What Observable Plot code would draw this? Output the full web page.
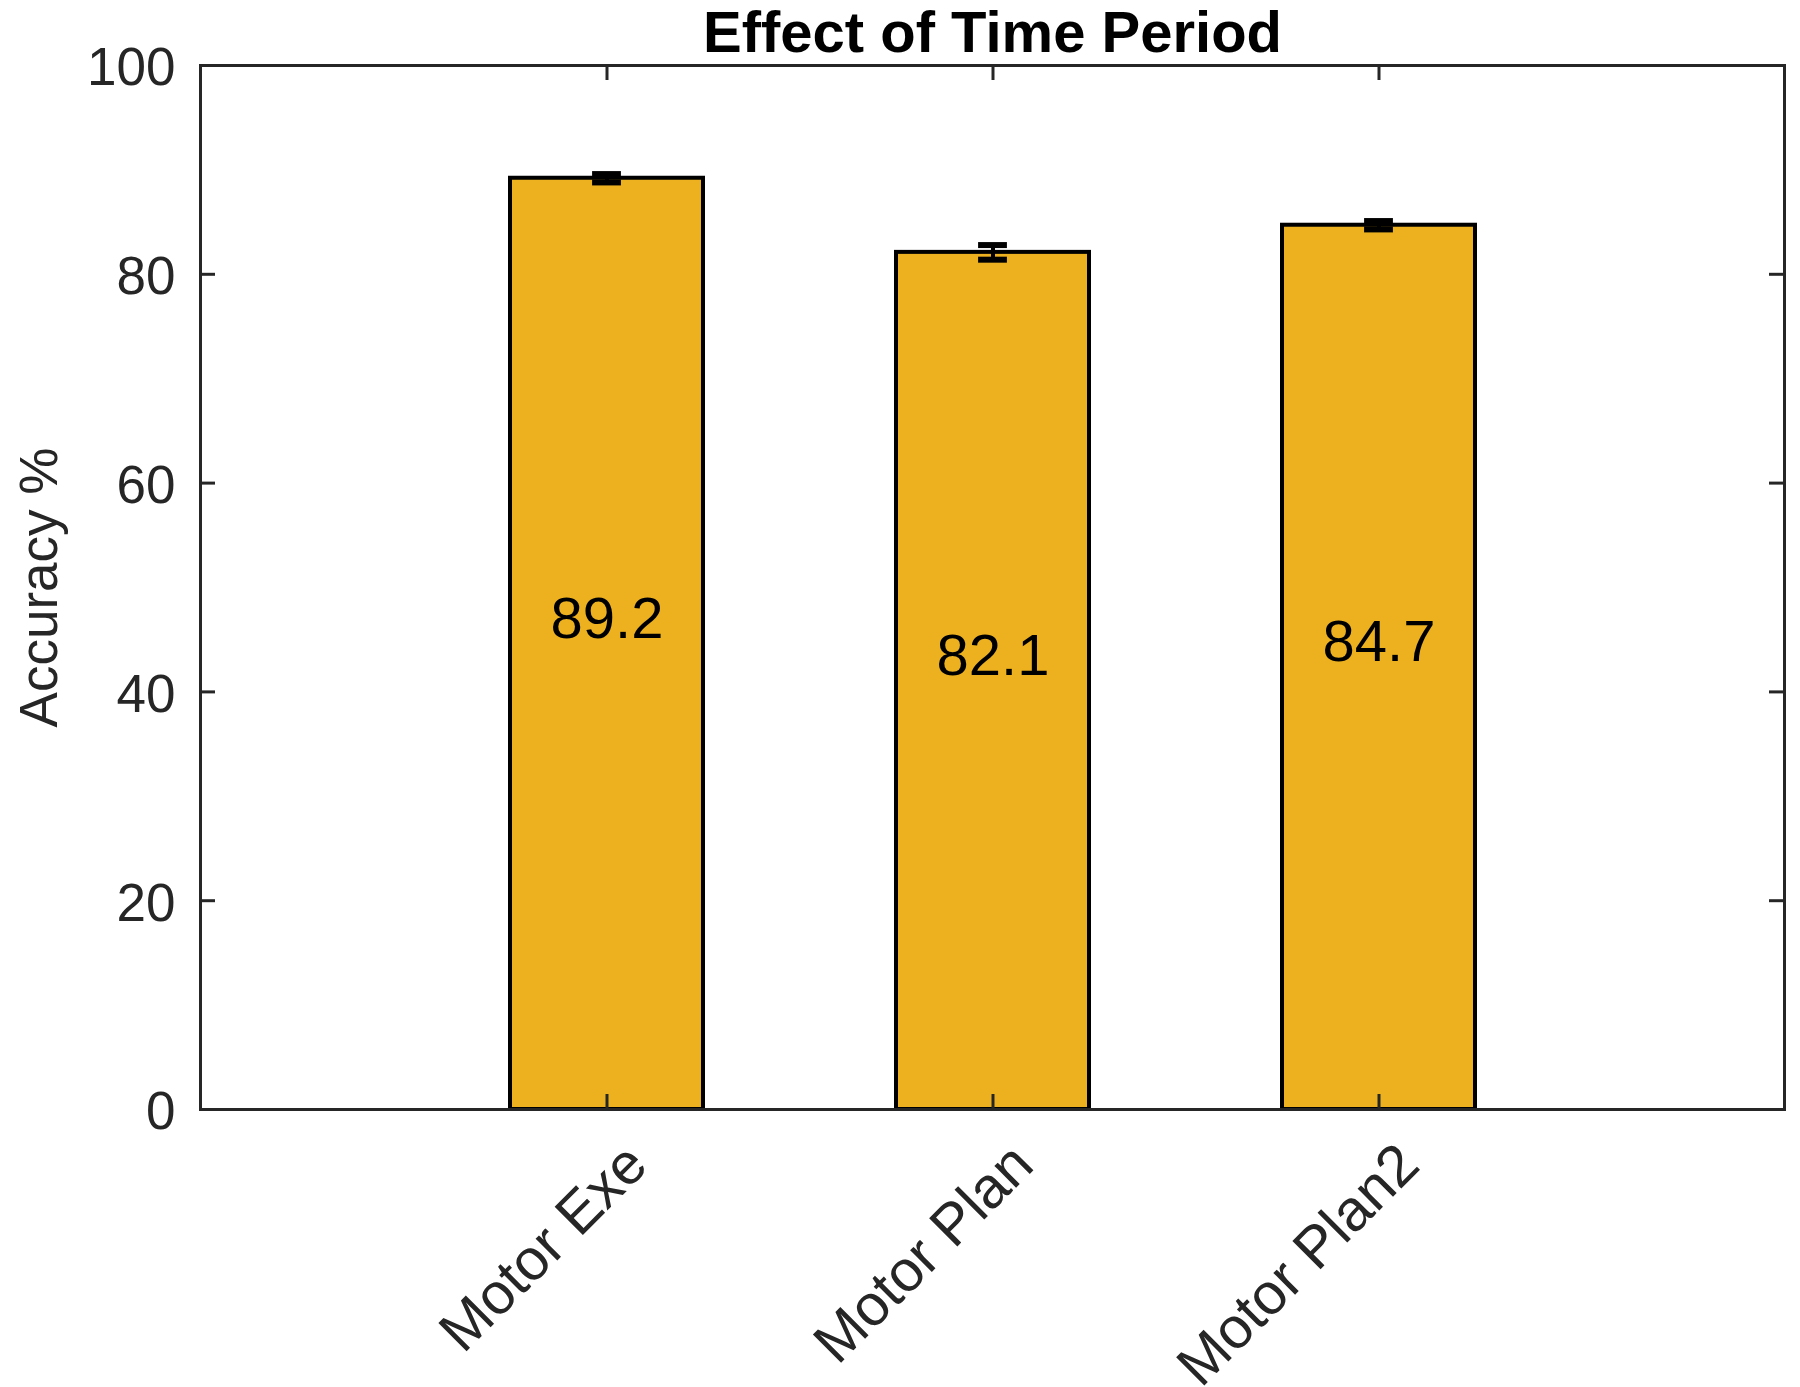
<!DOCTYPE html>
<html><head><meta charset="utf-8">
<script src="https://cdn.jsdelivr.net/npm/d3@7"></script>
<script src="https://cdn.jsdelivr.net/npm/@observablehq/plot@0.6"></script>
<style>body{margin:0;background:#fff}</style>
</head><body><div id="chart"></div>
<script>
const categories = ["Motor Exe", "Motor Plan", "Motor Plan2"];
const accuracy = [89.2, 82.1, 84.7];
const errors = [0.4, 0.7, 0.4];
const yTicks = [0, 20, 40, 60, 80, 100];
const title = "Effect of Time Period";
const yLabel = "Accuracy %";

const data = categories.map((c, i) => ({cat: c, value: accuracy[i], err: errors[i]}));

const W = 1800, H = 1387, mL = 200, mR = 16, mT = 65, mB = 278;
const fw = W - mL - mR, fh = H - mT - mB;
const pIn = 0.5, pOut = 0.8;
const step = fw / (categories.length - pIn + 2 * pOut);
const bw = step * (1 - pIn);
const capW = 29;
const capInset = (bw - capW) / 2;
const font = "'Liberation Sans', Arial, Helvetica, sans-serif";
const axisColor = "#262626";
const tickLen = 15;

const chart = Plot.plot({
  width: W, height: H,
  marginLeft: mL, marginRight: mR, marginTop: mT, marginBottom: mB,
  style: {fontFamily: font, background: "white", color: axisColor, overflow: "visible"},
  x: {domain: categories, paddingInner: pIn, paddingOuter: pOut},
  y: {domain: [0, 100]},
  marks: [
    Plot.barY(data, {x: "cat", y: "value", fill: "#EDB120", stroke: "#000", strokeWidth: 4}),
    Plot.ruleX(data, {x: "cat", y1: d => d.value - d.err, y2: d => d.value + d.err, stroke: "#000", strokeWidth: 4}),
    Plot.tickY(data, {x: "cat", y: d => d.value - d.err, stroke: "#000", strokeWidth: 6, insetLeft: capInset, insetRight: capInset}),
    Plot.tickY(data, {x: "cat", y: d => d.value + d.err, stroke: "#000", strokeWidth: 6, insetLeft: capInset, insetRight: capInset}),
    Plot.text(data, {x: "cat", y: d => d.value / 2, text: d => d.value.toFixed(1), fontSize: 58, fill: "#000", lineAnchor: "bottom", textAnchor: "middle", dy: -6}),
    Plot.ruleY(yTicks, {stroke: axisColor, strokeWidth: 3, insetRight: fw - tickLen}),
    Plot.ruleY(yTicks, {stroke: axisColor, strokeWidth: 3, insetLeft: fw - tickLen}),
    Plot.ruleX(categories, {stroke: axisColor, strokeWidth: 3, insetTop: fh - tickLen}),
    Plot.ruleX(categories, {stroke: axisColor, strokeWidth: 3, insetBottom: fh - tickLen}),
    Plot.axisY({ticks: yTicks, anchor: "left", tickSize: 0, tickPadding: 25, fontSize: 53, fill: axisColor, label: null, dy: 3}),
    Plot.axisX({anchor: "bottom", tickSize: 0, tickRotate: -45, tickPadding: 45, dx: 30, fontSize: 58, fill: axisColor, label: null}),
    Plot.frame({stroke: axisColor, strokeWidth: 3}),
    Plot.text([title], {frameAnchor: "top", lineAnchor: "bottom", textAnchor: "middle", dy: -14, fontSize: 58, fontWeight: "bold", fill: "#000"}),
    Plot.text([yLabel], {frameAnchor: "left", rotate: -90, textAnchor: "middle", lineAnchor: "middle", dx: -160, fontSize: 53, fill: axisColor})
  ]
});
document.getElementById("chart").appendChild(chart);
</script>
</body></html>
